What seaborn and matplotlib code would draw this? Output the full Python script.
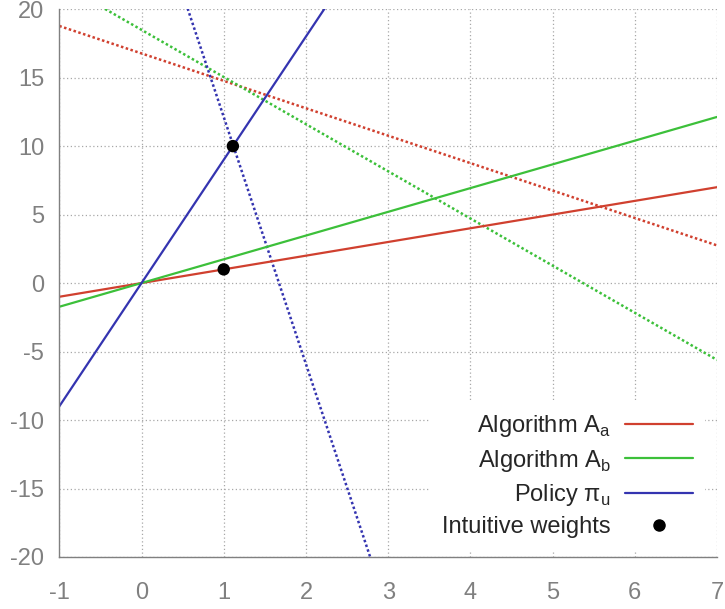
import matplotlib
matplotlib.use("Agg")
import matplotlib.pyplot as plt
import seaborn as sns
from matplotlib.lines import Line2D

# ---- data ----
x_ends = [-1, 7]
alg_a = [-1.0, 7.0]          # Algorithm A_a (solid red)
alg_b = [-1.73, 12.13]       # Algorithm A_b (solid green)
policy_u = [-9.0, 63.0]      # Policy pi_u (solid blue)
alg_a_iso = [18.77, 2.75]    # red dotted
alg_b_iso = [21.93, -5.61]   # green dotted
policy_iso = [48.2, -96.1]   # blue dotted
weights_x = [1.0, 1.111]
weights_y = [1.0, 10.0]
xticks = [-1, 0, 1, 2, 3, 4, 5, 6, 7]
yticks = [-20, -15, -10, -5, 0, 5, 10, 15, 20]

RED = "#d0402f"
GREEN = "#3cc03a"
BLUE = "#3434b0"
GRAY = "#808080"

sns.set_theme(style="white")
plt.rcParams["font.family"] = ["Liberation Sans", "DejaVu Sans"]
plt.rcParams["mathtext.fontset"] = "custom"
plt.rcParams["mathtext.rm"] = "Liberation Sans"

fig = plt.figure(figsize=(7.25, 6.09), dpi=100)
ax = fig.add_axes([0.0818, 0.0854, 0.989 - 0.0818, 0.985 - 0.0854])

dot = (0, (1, 1))
sns.lineplot(x=x_ends, y=alg_a_iso, ax=ax, color=RED, lw=1.8, linestyle=dot)
sns.lineplot(x=x_ends, y=alg_b_iso, ax=ax, color=GREEN, lw=1.8, linestyle=dot)
sns.lineplot(x=x_ends, y=policy_iso, ax=ax, color=BLUE, lw=1.8, linestyle=dot)
sns.lineplot(x=x_ends, y=alg_a, ax=ax, color=RED, lw=1.6)
sns.lineplot(x=x_ends, y=alg_b, ax=ax, color=GREEN, lw=1.6)
sns.lineplot(x=x_ends, y=policy_u, ax=ax, color=BLUE, lw=1.6)
sns.scatterplot(x=weights_x, y=weights_y, ax=ax, color="black", s=80,
                edgecolor="none", zorder=5)

ax.set_xlim(-1, 7)
ax.set_ylim(-20, 20)
ax.set_xticks(xticks)
ax.set_yticks(yticks)
ax.set_xticklabels([str(t) for t in xticks])
ax.set_yticklabels([str(t) for t in yticks])
ax.grid(True, color="#a8a8a8", linestyle=(0, (1, 2)), linewidth=0.9)
ax.set_axisbelow(True)
for s in ["top", "right"]:
    ax.spines[s].set_visible(False)
for s in ["left", "bottom"]:
    ax.spines[s].set_color(GRAY)
    ax.spines[s].set_linewidth(1.0)
ax.tick_params(axis="both", direction="in", length=9, width=1.0, color=GRAY,
               labelcolor=GRAY, labelsize=17)
ax.tick_params(axis="x", pad=18)
ax.tick_params(axis="y", pad=11)
ax.set_xlabel("")
ax.set_ylabel("")

handles = [
    Line2D([], [], color=RED, lw=1.6),
    Line2D([], [], color=GREEN, lw=1.6),
    Line2D([], [], color=BLUE, lw=1.6),
    Line2D([], [], color="black", marker="o", markersize=8, linestyle="none"),
]
labels = [
    r"Algorithm A$_\mathregular{a}$",
    r"Algorithm A$_\mathregular{b}$",
    r"Policy π$_\mathregular{u}$",
    "Intuitive weights",
]
leg = ax.legend(handles, labels, loc="lower right",
                bbox_to_anchor=(705 / 725, 1 - 550 / 609),
                bbox_transform=fig.transFigure,
                markerfirst=False, frameon=True, fancybox=False,
                framealpha=1, facecolor="white", edgecolor="none",
                fontsize=17, handlelength=2.9, handletextpad=0.6,
                labelspacing=0.35, borderaxespad=0, borderpad=0.5)
leg.set_zorder(10)

fig.savefig("out.png", dpi=100)
